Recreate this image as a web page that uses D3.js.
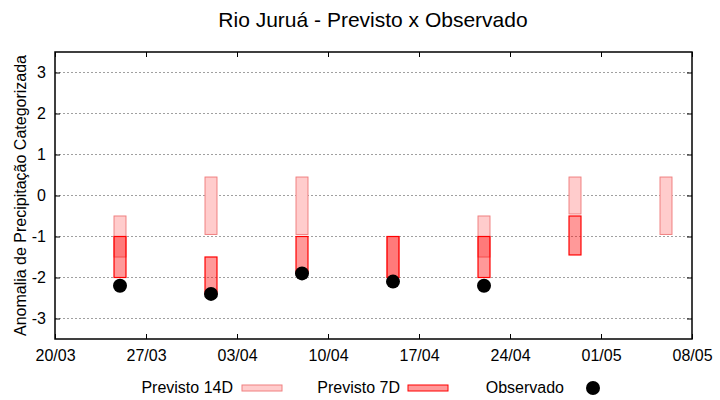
<!DOCTYPE html>
<html>
<head>
<meta charset="utf-8">
<script src="https://cdn.jsdelivr.net/npm/d3@7"></script>
<style>
    body { margin: 0; background: #fff; }
    text { font-family: "Liberation Sans", Arial, sans-serif; fill: #000; }
</style>
</head>
<body>
<div id="chart"></div>
<script>
    // Semanas da previsão (dd/mm)
    const semanas = ["25/03", "01/04", "08/04", "15/04", "22/04", "29/04", "06/05"];
    // Previsto 14 dias (limites da faixa)
    const p14Topo = [-0.5, 0.45, 0.45, -1.0, -0.5, 0.45, 0.45];
    const p14Base = [-1.5, -0.95, -0.95, -2.0, -1.5, -0.45, -0.95];
    // Previsto 7 dias
    const p7Topo = [-1.0, -1.5, -1.0, -1.0, -1.0, -0.5, null];
    const p7Base = [-2.0, -2.4, -1.9, -2.0, -2.0, -1.45, null];
    // Observado
    const observado = [-2.2, -2.4, -1.9, -2.1, -2.2, null, null];
    // Rótulos do eixo X
    const ticksX = ["20/03", "27/03", "03/04", "10/04", "17/04", "24/04", "01/05", "08/05"];
    const ticksY = [-3, -2, -1, 0, 1, 2, 3];

    const parse = d3.timeParse("%d/%m/%Y");
    const data = d => parse(d + "/2025");

    const W = 720, H = 400;
    const margin = { top: 52, right: 28, bottom: 61, left: 55 };
    const width = W - margin.left - margin.right;
    const height = H - margin.top - margin.bottom;

    const svg = d3.select("#chart")
        .append("svg")
        .attr("width", W)
        .attr("height", H);

    const g = svg.append("g")
        .attr("transform", `translate(${margin.left},${margin.top})`);

    const x = d3.scaleTime()
        .domain([data(ticksX[0]), data(ticksX[ticksX.length - 1])])
        .range([0, width]);

    const y = d3.scaleLinear()
        .domain([-3.5, 3.5])
        .range([height, 0]);

    // Grade horizontal
    g.append("g")
        .selectAll("line")
        .data(ticksY)
        .enter()
        .append("line")
        .attr("x1", 0)
        .attr("x2", width)
        .attr("y1", d => y(d))
        .attr("y2", d => y(d))
        .attr("stroke", "#a0a0a0")
        .attr("stroke-dasharray", "2,2");

    const meiaLargura = 0.46 * 24 * 3600 * 1000; // meia largura da barra (ms)
    const barX = d => x(new Date(data(d).getTime() - meiaLargura));
    const barW = d => x(new Date(data(d).getTime() + meiaLargura)) - barX(d);

    const linhas = semanas.map((s, i) => ({
        s, t14: p14Topo[i], b14: p14Base[i], t7: p7Topo[i], b7: p7Base[i], obs: observado[i]
    }));

    // Previsto 14D
    g.append("g")
        .selectAll("rect")
        .data(linhas)
        .enter()
        .append("rect")
        .attr("x", d => barX(d.s))
        .attr("width", d => barW(d.s))
        .attr("y", d => y(d.t14))
        .attr("height", d => y(d.b14) - y(d.t14))
        .attr("fill", "#ffcccc")
        .attr("stroke", "#f08080")
        .attr("stroke-width", 1);

    // Previsto 7D
    g.append("g")
        .selectAll("rect")
        .data(linhas.filter(d => d.t7 !== null))
        .enter()
        .append("rect")
        .attr("x", d => barX(d.s))
        .attr("width", d => barW(d.s))
        .attr("y", d => y(d.t7))
        .attr("height", d => y(d.b7) - y(d.t7))
        .attr("fill", "rgba(255,0,0,0.4)")
        .attr("stroke", "#ff0000")
        .attr("stroke-width", 1.2);

    // Observado
    g.append("g")
        .selectAll("circle")
        .data(linhas.filter(d => d.obs !== null))
        .enter()
        .append("circle")
        .attr("cx", d => x(data(d.s)))
        .attr("cy", d => y(d.obs))
        .attr("r", 7)
        .attr("fill", "#000");

    // Eixos (ticks para dentro, espelhados)
    const tx = ticksX.map(data);
    g.append("g")
        .attr("transform", `translate(0,${height})`)
        .call(d3.axisBottom(x).tickValues(tx).tickFormat(d3.timeFormat("%d/%m")).tickSizeInner(-5).tickSizeOuter(0).tickPadding(11))
        .call(a => a.select(".domain").remove())
        .selectAll("text").style("font-size", "16px");

    g.append("g")
        .call(d3.axisTop(x).tickValues(tx).tickFormat("").tickSizeInner(-5).tickSizeOuter(0))
        .call(a => a.select(".domain").remove());

    g.append("g")
        .call(d3.axisLeft(y).tickValues(ticksY).tickFormat(d => String(d)).tickSizeInner(-5).tickSizeOuter(0).tickPadding(9))
        .call(a => a.select(".domain").remove())
        .selectAll("text").style("font-size", "16px");

    g.append("g")
        .attr("transform", `translate(${width},0)`)
        .call(d3.axisRight(y).tickValues(ticksY).tickFormat("").tickSizeInner(-5).tickSizeOuter(0))
        .call(a => a.select(".domain").remove());

    g.selectAll(".tick line").attr("stroke", "#000");

    // Moldura
    g.append("rect")
        .attr("width", width)
        .attr("height", height)
        .attr("fill", "none")
        .attr("stroke", "#000")
        .attr("stroke-width", 1.5);

    // Rótulo do eixo Y
    svg.append("text")
        .attr("transform", `translate(26,${margin.top + height / 2}) rotate(-90)`)
        .attr("text-anchor", "middle")
        .style("font-size", "16px")
        .text("Anomalia de Precipitação Categorizada");

    // Título
    svg.append("text")
        .attr("x", 373)
        .attr("y", 27)
        .attr("text-anchor", "middle")
        .style("font-size", "21px")
        .text("Rio Juruá - Previsto x Observado");

    // Legenda
    const leg = svg.append("g").attr("transform", "translate(0,388)");
    leg.append("text").attr("x", 233).attr("y", 5).attr("text-anchor", "end")
        .style("font-size", "16px").text("Previsto 14D");
    leg.append("rect").attr("x", 242).attr("y", -3).attr("width", 40).attr("height", 6)
        .attr("fill", "#ffcccc").attr("stroke", "#f08080");
    leg.append("text").attr("x", 400).attr("y", 5).attr("text-anchor", "end")
        .style("font-size", "16px").text("Previsto 7D");
    leg.append("rect").attr("x", 408).attr("y", -3).attr("width", 40).attr("height", 6)
        .attr("fill", "rgba(255,0,0,0.4)").attr("stroke", "#ff0000");
    leg.append("text").attr("x", 564).attr("y", 5).attr("text-anchor", "end")
        .style("font-size", "16px").text("Observado");
    leg.append("circle").attr("cx", 593).attr("cy", 0).attr("r", 7).attr("fill", "#000");
</script>
</body>
</html>
